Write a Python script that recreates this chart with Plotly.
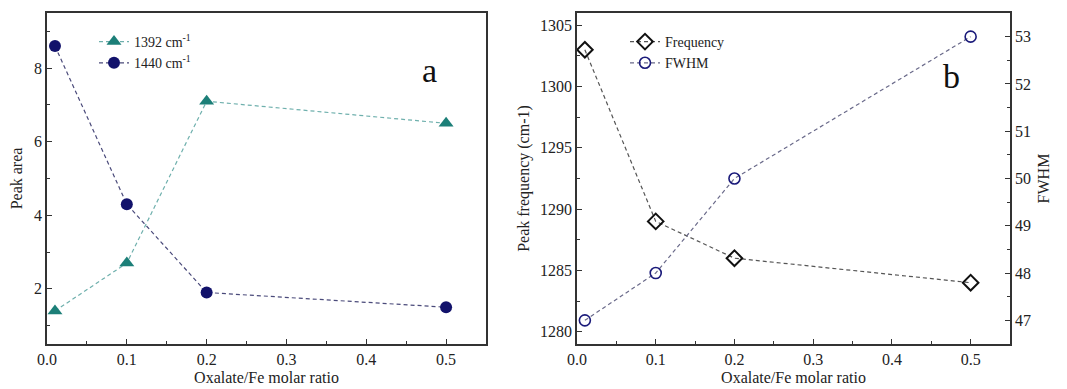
import plotly.graph_objects as go

# Data
ratio = [0.01, 0.1, 0.2, 0.5]
area_1392 = [1.4, 2.7, 7.1, 6.5]
area_1440 = [8.6, 4.3, 1.9, 1.5]
frequency = [1303, 1289, 1286, 1284]
fwhm = [47, 48, 50, 53]

# page body has an 8px default margin: figure sized to fit the window
OFF = 8
W, H = 1067 - OFF, 389 - OFF
FONT = "Liberation Serif"
DASH = "4px,3px"

fig = go.Figure()

fig.add_trace(go.Scatter(
    x=ratio, y=area_1392, mode="lines+markers", name="1392 cm<sup>-1</sup>",
    line=dict(color="#6fb0ad", dash=DASH, width=1.2),
    marker=dict(symbol="triangle-up", size=13, color="#1c7f78"),
    xaxis="x", yaxis="y", legend="legend"))
fig.add_trace(go.Scatter(
    x=ratio, y=area_1440, mode="lines+markers", name="1440 cm<sup>-1</sup>",
    line=dict(color="#4a4a7a", dash=DASH, width=1.2),
    marker=dict(symbol="circle", size=12, color="#12126b"),
    xaxis="x", yaxis="y", legend="legend"))

fig.add_trace(go.Scatter(
    x=ratio, y=frequency, mode="lines+markers", name="Frequency",
    line=dict(color="#555555", dash=DASH, width=1.2),
    marker=dict(symbol="diamond-open", size=12, color="#111111", line=dict(width=2)),
    xaxis="x2", yaxis="y2", legend="legend2"))
fig.add_trace(go.Scatter(
    x=ratio, y=fwhm, mode="lines+markers", name="FWHM",
    line=dict(color="#6a6a8a", dash=DASH, width=1.2),
    marker=dict(symbol="circle-open", size=11, color="#1a1a7a", line=dict(width=1.6)),
    xaxis="x2", yaxis="y3", legend="legend2"))

def px(x):
    return (x - OFF) / W

def py(y):
    return 1 - (y - OFF) / H

axis_common = dict(
    showline=True, linecolor="#333333", linewidth=1.5, mirror=True,
    ticks="inside", ticklen=5, tickwidth=1.2, tickcolor="#333333",
    showgrid=False, zeroline=False, automargin=False,
    tickfont=dict(family=FONT, size=16, color="#222222"),
    title_font=dict(family=FONT, size=16, color="#222222"),
    minor=dict(ticks="inside", ticklen=3, tickwidth=1, tickcolor="#333333"),
)

ydom = [py(344), py(13)]

fig.update_layout(
    width=W, height=H,
    margin=dict(l=0, r=0, t=0, b=0),
    paper_bgcolor="white", plot_bgcolor="white",
    font=dict(family=FONT, color="#222222"),
    xaxis=dict(axis_common, domain=[px(47), px(486)], range=[0, 0.55],
               dtick=0.1, tickformat=".1f", minor_dtick=0.05,
               title=dict(text="Oxalate/Fe molar ratio", standoff=5), anchor="y"),
    yaxis=dict(axis_common, domain=ydom, range=[0.5, 9.5], tickvals=[2, 4, 6, 8],
               minor=dict(axis_common["minor"], tickvals=[1, 3, 5, 7, 9]),
               title=dict(text="Peak area", standoff=10), anchor="x"),
    xaxis2=dict(axis_common, domain=[px(577), px(1010)], range=[0, 0.55],
                dtick=0.1, tickformat=".1f", minor_dtick=0.05,
                title=dict(text="Oxalate/Fe molar ratio", standoff=5), anchor="y2"),
    yaxis2=dict(axis_common, domain=ydom, range=[1279, 1306], dtick=5, minor_dtick=2.5,
                mirror=False,
                title=dict(text="Peak frequency (cm-1)", standoff=6), anchor="x2"),
    yaxis3=dict(axis_common, domain=ydom, range=[46.5, 53.5], dtick=1, minor_dtick=0.5,
                mirror=False, overlaying="y2", side="right",
                title=dict(text="FWHM", standoff=8), anchor="x2"),
    legend=dict(x=px(94), y=py(26), xanchor="left", yanchor="top",
                bgcolor="rgba(0,0,0,0)", font=dict(family=FONT, size=14, color="#222222"),
                tracegroupgap=0, itemwidth=30),
    legend2=dict(x=px(625), y=py(26), xanchor="left", yanchor="top",
                 bgcolor="rgba(0,0,0,0)", font=dict(family=FONT, size=14, color="#222222"),
                 tracegroupgap=0, itemwidth=30),
    showlegend=True,
    annotations=[
        dict(text="a", x=px(429), y=py(50), xref="paper", yref="paper",
             showarrow=False, font=dict(family=FONT, size=34, color="#111111")),
        dict(text="b", x=px(962), y=py(56), xref="paper", yref="paper",
             showarrow=False, font=dict(family=FONT, size=34, color="#111111")),
    ],
)

fig.write_html("out.html")
